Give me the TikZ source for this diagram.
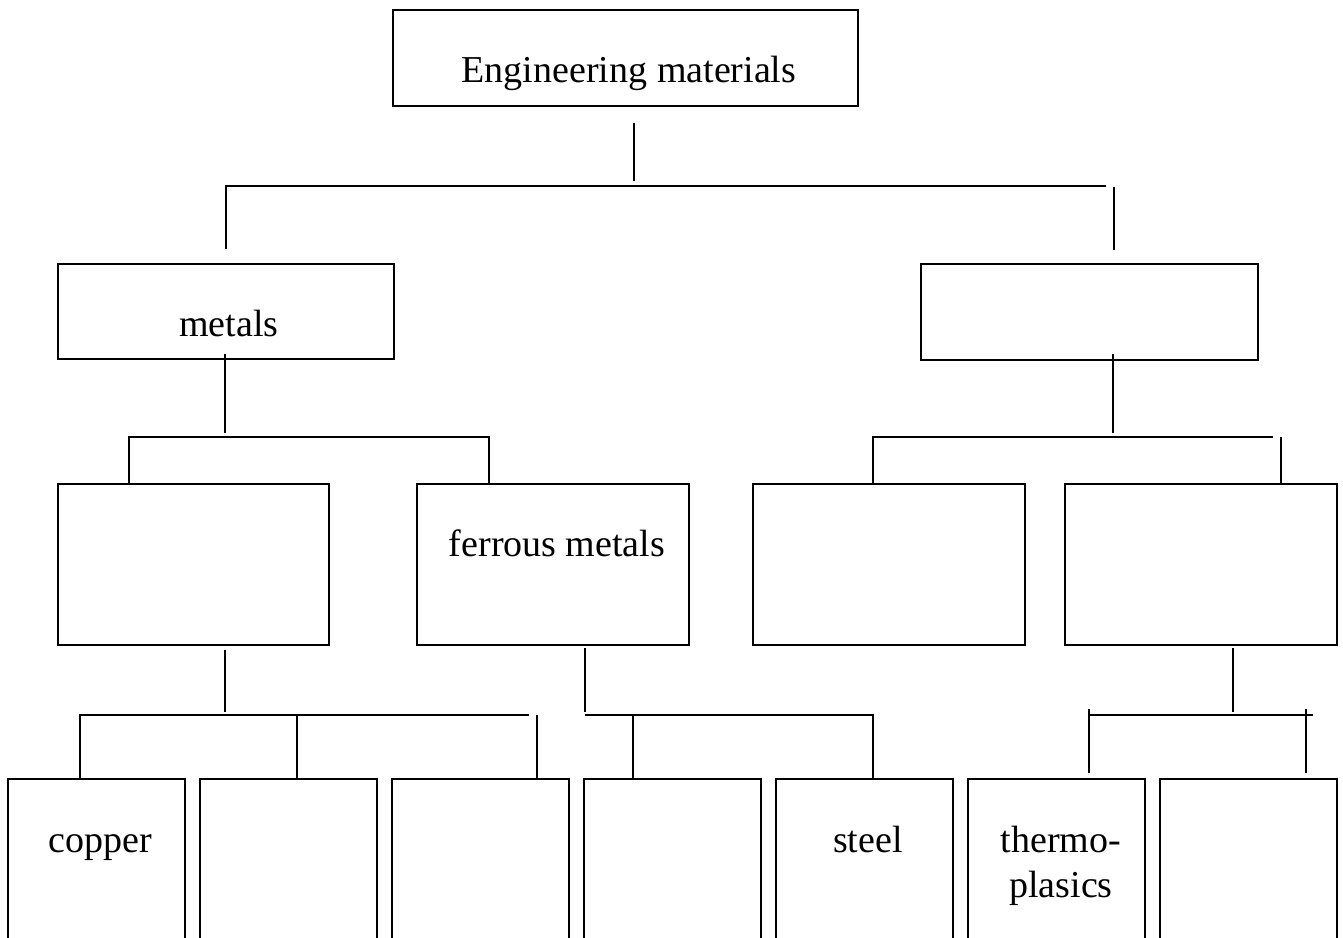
\documentclass[tikz,border=0pt]{standalone}
\usepackage{fontspec}
\setmainfont{Liberation Serif}
\begin{document}
\begin{tikzpicture}[x=0.5pt,y=-0.5pt,
  box/.style={draw, line width=1pt, rectangle, inner sep=0pt, outer sep=0pt, anchor=north west},
  lbl/.style={font=\fontsize{19}{22.5}\selectfont, inner sep=0pt, anchor=base},
  wire/.style={draw, line width=1pt}]
\useasboundingbox (0,0) rectangle (1343,937);
\clip (0,0) rectangle (1343,937);

% level 0
\node[box, minimum width=232.5pt, minimum height=48pt] (root) at (393,10) {};
% level 1
\node[box, minimum width=168pt, minimum height=47.5pt] (metals) at (58,264) {};
\node[box, minimum width=168.5pt, minimum height=48pt] (nonmetals) at (921,264) {};
% level 2
\node[box, minimum width=135.5pt, minimum height=80.5pt] (nonferrous) at (58,484) {};
\node[box, minimum width=136pt, minimum height=80.5pt] (ferrous) at (417,484) {};
\node[box, minimum width=136pt, minimum height=80.5pt] (ceramics) at (753,484) {};
\node[box, minimum width=136pt, minimum height=80.5pt] (polymers) at (1065,484) {};
% level 3
\foreach \i/\xx in {1/8,2/200,3/392,4/584,5/776,6/968,7/1160}
  \node[box, minimum width=88.5pt, minimum height=90.5pt] (leaf\i) at (\xx,779) {};

% labels (multi-line labels sit on the baseline of their last line)
\node[lbl] (tRoot) at (629,82) {Engineering materials};
\node[lbl] (tMetals) at (229,336) {metals};
\node[lbl] (tFerrous) at (557,556) {ferrous metals};
\node[lbl] (tCopper) at (100,852) {copper};
\node[lbl] (tSteel) at (868,852) {steel};
\node[lbl, align=center] (tThermo) at (1061,897) {thermo-\\plasics};

% junction points of the connectors
\coordinate (r0) at (634,123);  \coordinate (r1) at (634,181);
\coordinate (ha) at (226,186);  \coordinate (hb) at (1106,186);
\coordinate (ma) at (226,249);
\coordinate (na) at (1114,187); \coordinate (nb) at (1114,250);

\coordinate (m0) at (225,354);  \coordinate (m1) at (225,433);
\coordinate (m2) at (129,437);  \coordinate (m3) at (489,437);
\coordinate (m4) at (129,484);  \coordinate (m5) at (489,484);

\coordinate (n0) at (1113,354); \coordinate (n1) at (1113,433);
\coordinate (n2) at (873,437);  \coordinate (n3) at (1273,437);
\coordinate (n4) at (873,484);
\coordinate (n5) at (1281,437); \coordinate (n6) at (1281,485);

\coordinate (f0) at (225,650);  \coordinate (f1) at (225,712);
\coordinate (f2) at (80,715);   \coordinate (f3) at (529,715);
\coordinate (f4) at (80,779);
\coordinate (f5) at (297,715);  \coordinate (f6) at (297,779);
\coordinate (f7) at (537,715);  \coordinate (f8) at (537,779);

\coordinate (s0) at (585,648);  \coordinate (s1) at (585,712);
\coordinate (s2) at (585,715);  \coordinate (s3) at (873,715);
\coordinate (s4) at (633,715);  \coordinate (s5) at (633,779);
\coordinate (s6) at (873,779);

\coordinate (p0) at (1233,648); \coordinate (p1) at (1233,712);
\coordinate (p2) at (1089,715); \coordinate (p3) at (1313,715);
\coordinate (p4) at (1089,709); \coordinate (p5) at (1089,773);
\coordinate (p6) at (1306,709); \coordinate (p7) at (1306,773);

% connectors
\path[wire] (r0) -- (r1);
\path[wire] (ma) -- (ha) -- (hb);
\path[wire] (na) -- (nb);

\path[wire] (m0) -- (m1);
\path[wire] (m4) -- (m2) -- (m3) -- (m5);

\path[wire] (n0) -- (n1);
\path[wire] (n4) -- (n2) -- (n3);
\path[wire] (n5) -- (n6);

\path[wire] (f0) -- (f1);
\path[wire] (f4) -- (f2) -- (f3);
\path[wire] (f5) -- (f6);
\path[wire] (f7) -- (f8);

\path[wire] (s0) -- (s1);
\path[wire] (s2) -- (s3) -- (s6);
\path[wire] (s4) -- (s5);

\path[wire] (p0) -- (p1);
\path[wire] (p2) -- (p3);
\path[wire] (p4) -- (p5);
\path[wire] (p6) -- (p7);
\end{tikzpicture}
\end{document}
